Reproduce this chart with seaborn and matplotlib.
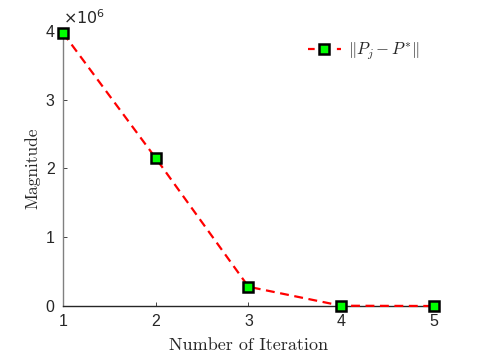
import numpy as np
import pandas as pd
import seaborn as sns
import matplotlib.pyplot as plt
from matplotlib.ticker import FuncFormatter

# values
iterations = [1, 2, 3, 4, 5]
magnitude = [3.97e6, 2.15e6, 0.28e6, 0.004e6, 0.0]
x_ticks = [1, 2, 3, 4, 5]
y_ticks = [0, 1e6, 2e6, 3e6, 4e6]

df = pd.DataFrame({'iter': iterations, 'mag': magnitude})

sns.set_style('ticks')
plt.rcParams['font.family'] = ['Liberation Sans', 'DejaVu Sans']
plt.rcParams['mathtext.fontset'] = 'cm'

axis_col = '#262626'
fig = plt.figure(figsize=(4.79, 3.59), dpi=100)
ax = fig.add_axes([0.1315, 0.1476, 0.7745, 0.7664])

sns.lineplot(data=df, x='iter', y='mag', ax=ax, color='#ff0000', linestyle='--',
             linewidth=1.6, marker='s', markersize=7, markerfacecolor='#00ff00',
             markeredgecolor='black', markeredgewidth=1.8, dashes=False,
             label=r'$\|P_j - P^{*}\|$', clip_on=False, zorder=5)
ax.lines[0].set_dashes([4, 2.5])

ax.set_xlim(1, 5)
ax.set_ylim(0, 4e6)
ax.set_xticks(x_ticks)
ax.set_yticks(y_ticks)
ax.yaxis.set_major_formatter(FuncFormatter(lambda v, p: f'{v / 1e6:g}'))

sns.despine(ax=ax)
ax.spines['left'].set_color('#808080')
ax.spines['bottom'].set_color(axis_col)
for s in ['left', 'bottom']:
    ax.spines[s].set_linewidth(1.0)
ax.tick_params(direction='in', length=3, width=0.6, colors=axis_col,
               labelsize=11.5, pad=6)

ax.set_xlabel('Number of Iteration', family='cmr10', fontsize=13, color=axis_col, labelpad=6)
ax.set_ylabel('Magnitude', family='cmr10', fontsize=12.5, color=axis_col, labelpad=4)

ax.text(0.0, 1.015, r'$\times10^{6}$', transform=ax.transAxes, fontsize=11.5,
        math_fontfamily='dejavusans', color=axis_col, ha='left', va='bottom')

leg = ax.legend(loc='upper right', frameon=False, fontsize=12, handlelength=2.0,
                handletextpad=0.4, bbox_to_anchor=(1.0, 1.02))
for t in leg.get_texts():
    t.set_color(axis_col)
for ln in leg.get_lines():
    ln.set_dashes([3, 3.5])

plt.savefig('out.png', dpi=100)
